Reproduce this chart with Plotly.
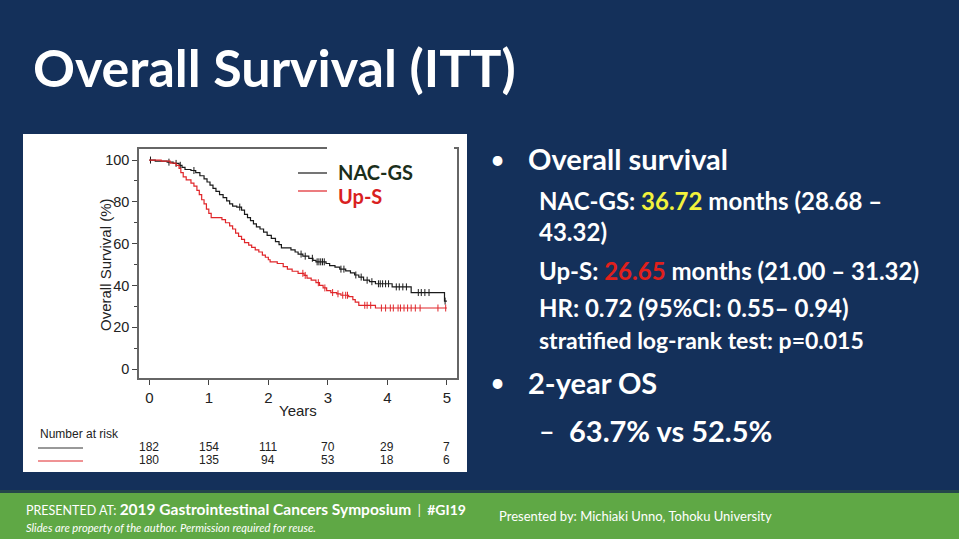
import numpy as np
import plotly.graph_objects as go

W, H = 959, 539

# ---------------- data ----------------
years_ticks = [0, 1, 2, 3, 4, 5]
surv_ticks = [0, 20, 40, 60, 80, 100]

nac_t = [0, 0.10, 0.30, 0.40, 0.50, 0.55, 0.60, 0.70, 0.78, 0.85, 0.92, 0.97, 1.02, 1.07,
         1.12, 1.18, 1.24, 1.30, 1.35, 1.40, 1.47, 1.55, 1.60, 1.65, 1.70, 1.75, 1.80,
         1.86, 1.92, 1.98, 2.05, 2.12, 2.18, 2.22, 2.38, 2.45, 2.50, 2.58, 2.68, 2.75,
         2.80, 2.97, 3.03, 3.12, 3.20, 3.30, 3.38, 3.45, 3.52, 3.60, 3.70, 3.80, 4.08,
         4.40, 4.96, 5.00]
nac_s = [100, 99.5, 99, 98.4, 97.5, 96.5, 95.5, 95, 94, 92.5, 91, 89.5, 88, 86.5,
         85, 83.5, 82, 80.5, 79, 78, 77.5, 76, 74, 72.5, 71, 69.5, 68,
         67, 65.5, 64, 62.5, 61, 59.5, 58, 57, 56, 55, 54, 53, 52,
         51.3, 50.5, 49.5, 48.8, 47.8, 47, 46, 45, 44, 42.5, 41.8, 40.8, 39.3,
         36.6, 32.5, 32.5]
nac_cens = [0.02, 0.33, 0.45, 0.52, 0.75, 1.52, 2.55, 2.62, 2.74, 2.82, 2.85, 2.88, 2.91,
            2.94, 3.22, 3.27, 3.47, 3.56, 3.66, 3.74, 3.85, 3.88, 3.92, 3.97, 4.02,
            4.15, 4.20, 4.26, 4.32, 4.52, 4.57, 4.63, 4.70, 4.97]

ups_t = [0, 0.20, 0.35, 0.45, 0.50, 0.53, 0.57, 0.62, 0.70, 0.75, 0.80, 0.84, 0.88, 0.92,
         0.96, 1.00, 1.04, 1.22, 1.28, 1.35, 1.40, 1.45, 1.50, 1.55, 1.60, 1.67, 1.72,
         1.78, 1.84, 1.90, 1.95, 2.00, 2.03, 2.15, 2.25, 2.32, 2.40, 2.50, 2.60, 2.65,
         2.72, 2.80, 2.86, 2.92, 2.98, 3.05, 3.15, 3.22, 3.35, 3.42, 3.46, 3.52, 3.80, 5.00]
ups_s = [100, 99.5, 98.5, 97.5, 96, 94, 92, 90.5, 89, 87.5, 85.5, 83.5, 81, 79,
         76.5, 74.5, 72.5, 71.5, 70, 68.5, 67, 65, 63.5, 62, 60.5, 59.3, 58.2,
         57, 56, 54.5, 53.5, 52.3, 51.3, 50.5, 49, 47.8, 46.8, 45.8, 44.8, 43.5,
         42.5, 41.3, 40, 38.8, 37.5, 36.6, 36, 35.3, 34.6, 33.2, 32, 30.5, 29.2, 29.2]
ups_cens = [2.58, 2.62, 2.84, 2.95, 3.08, 3.17, 3.25, 3.30, 3.33, 3.62, 3.66, 3.72,
            3.90, 3.97, 4.05, 4.10, 4.18, 4.22, 4.28, 4.34, 4.40, 4.47, 4.55, 4.85, 4.98]

risk_nac = [182, 154, 111, 70, 29, 7]
risk_ups = [180, 135, 94, 53, 18, 6]

NAVY = "#14305a"
GREEN = "#5fa845"
BLACK = "#1a1a1a"
RED = "#e0262a"


def step_at(t, s, c):
    t = np.asarray(t); s = np.asarray(s)
    idx = np.searchsorted(t, np.asarray(c), side="right") - 1
    return s[idx]


def px(x):
    return x / W


def py(y):
    return 1 - y / H


fig = go.Figure()

for t, s, cens, col in [(nac_t, nac_s, nac_cens, BLACK), (ups_t, ups_s, ups_cens, RED)]:
    fig.add_trace(go.Scatter(x=t, y=s, mode="lines", line=dict(color=col, width=1.2, shape="hv"),
                             showlegend=False, hoverinfo="skip"))
    fig.add_trace(go.Scatter(x=cens, y=step_at(t, s, cens), mode="markers",
                             marker=dict(symbol="line-ns", size=5, line=dict(color=col, width=1)),
                             showlegend=False, hoverinfo="skip"))

x0p, x1p, y0p, y1p = 139, 457, 149, 378

fig.update_layout(
    width=W, height=H, margin=dict(l=0, r=0, t=0, b=0),
    paper_bgcolor=NAVY, plot_bgcolor="white",
    xaxis=dict(domain=[px(x0p), px(x1p)], range=[-0.173, 5.17], tickvals=years_ticks,
               ticks="outside", ticklen=5, tickcolor="#444", showline=True, mirror=True,
               linecolor="#666", linewidth=1.5, showgrid=False, zeroline=False,
               tickfont=dict(family="Liberation Sans", size=15, color="#222")),
    yaxis=dict(domain=[py(y1p), py(y0p)], range=[-4.3, 105.3], tickvals=surv_ticks,
               ticks="outside", ticklen=5, tickcolor="#444", showline=True, mirror=True,
               linecolor="#666", linewidth=1.5, showgrid=False, zeroline=False,
               minor=dict(tickvals=[10, 30, 50, 70, 90], ticks="outside", ticklen=3, tickcolor="#444"),
               tickfont=dict(family="Liberation Sans", size=14.5, color="#222")),
)

shapes = []
# white panel
shapes.append(dict(type="rect", xref="paper", yref="paper", x0=px(23), x1=px(467), y0=py(472), y1=py(134),
                   fillcolor="white", line=dict(width=0), layer="below"))
# legend box covering frame top
shapes.append(dict(type="rect", xref="paper", yref="paper", x0=px(327), x1=px(454), y0=py(152), y1=py(146),
                   fillcolor="white", line=dict(width=0), layer="above"))
# legend lines
shapes.append(dict(type="line", xref="paper", yref="paper", x0=px(298), x1=px(327), y0=py(173), y1=py(173),
                   line=dict(color=BLACK, width=1.2)))
shapes.append(dict(type="line", xref="paper", yref="paper", x0=px(298), x1=px(327), y0=py(191), y1=py(191),
                   line=dict(color=RED, width=1.2)))
# number-at-risk lines
shapes.append(dict(type="line", xref="paper", yref="paper", x0=px(38), x1=px(83), y0=py(448), y1=py(448),
                   line=dict(color="#333", width=1)))
shapes.append(dict(type="line", xref="paper", yref="paper", x0=px(38), x1=px(83), y0=py(461), y1=py(461),
                   line=dict(color=RED, width=1)))
# footer
shapes.append(dict(type="rect", xref="paper", yref="paper", x0=0, x1=1, y0=py(493), y1=py(490),
                   fillcolor="#24474a", line=dict(width=0)))
shapes.append(dict(type="rect", xref="paper", yref="paper", x0=0, x1=1, y0=0, y1=py(493),
                   fillcolor=GREEN, line=dict(width=0)))
fig.update_layout(shapes=shapes)

ann = []


def txt(x, y, text, size, color="white", family="Lato", xanchor="left", yanchor="middle", angle=0, xref="paper"):
    ann.append(dict(x=x if xref != "paper" else px(x), y=py(y), xref=xref, yref="paper", text=text,
                    showarrow=False, xanchor=xanchor, yanchor=yanchor, textangle=angle,
                    font=dict(size=size, color=color, family=family)))


# title
txt(31, 67, "<b>Overall Survival (ITT)</b>", 52)

# axis titles
txt(105, 265, "Overall Survival (%)", 15, "#222", "Liberation Sans", xanchor="center", angle=-90)
txt(298, 410, "Years", 15, "#222", "Liberation Sans", xanchor="center")

# legend text
txt(336, 172, "<b>NAC-GS</b>", 20, "#1b2e1b")
txt(336, 196, "<b>Up-S</b>", 20, "#d9211f")

# number at risk
txt(38, 434, "Number at risk", 12, "#222", "Liberation Sans")
for i, yr in enumerate(years_ticks):
    txt(yr, 447, str(risk_nac[i]), 12, "#222", "Liberation Sans", xanchor="center", xref="x")
    txt(yr, 460, str(risk_ups[i]), 12, "#222", "Liberation Sans", xanchor="center", xref="x")

# right-hand text
txt(488, 159, "•", 26)
txt(526, 159, "<b>Overall survival</b>", 29)
txt(537, 200, "<b>NAC-GS: <span style='color:#f2f23c'>36.72</span> months (28.68 –</b>", 24)
txt(537, 232, "<b>43.32)</b>", 24)
txt(537, 270, "<b>Up-S: <span style='color:#e0201c'>26.65</span> months (21.00 – 31.32)</b>", 24)
txt(537, 307, "<b>HR: 0.72 (95%CI: 0.55– 0.94)</b>", 24)
txt(537, 340, "<b>stratified log-rank test: p=0.015</b>", 23)
txt(488, 382, "•", 26)
txt(526, 382, "<b>2-year OS</b>", 29)
txt(537, 430, "<b>–</b>", 27)
txt(567, 430, "<b>63.7% vs 52.5%</b>", 29)

# footer text
txt(24, 509, "PRESENTED AT: <b><span style='font-size:15.5px'>2019 Gastrointestinal Cancers Symposium</span></b>"
    "  |  <b><span style='font-size:14px'>#GI19</span></b>", 12.5)
txt(24, 527, "<i>Slides are property of the author. Permission required for reuse.</i>", 11.2)
txt(497, 516, "Presented by: Michiaki Unno, Tohoku University", 13)

fig.update_layout(annotations=ann)

fig.write_html("out.html", config={"displayModeBar": False},
               post_script="document.body.style.margin='0';document.body.style.overflow='hidden';")
